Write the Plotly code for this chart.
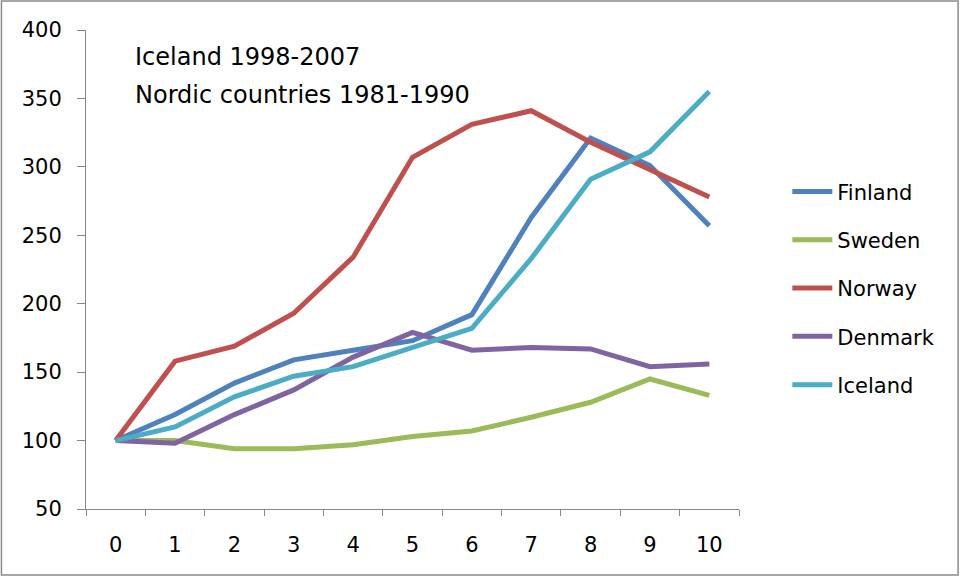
import plotly.graph_objects as go

years = list(range(11))
series_names = ["Finland", "Sweden", "Norway", "Denmark", "Iceland"]
finland = [100, 119, 142, 159, 166, 173, 192, 263, 321, 301, 257]
sweden = [100, 100, 94, 94, 97, 103, 107, 117, 128, 145, 133]
norway = [100, 158, 169, 193, 234, 307, 331, 341, 318, 298, 278]
denmark = [100, 98, 119, 137, 161, 179, 166, 168, 167, 154, 156]
iceland = [100, 110, 132, 147, 154, 168, 182, 233, 291, 311, 355]
series_values = [finland, sweden, norway, denmark, iceland]
colors = ["#4F81BD", "#9BBB59", "#C0504D", "#8064A2", "#4BACC6"]
y_ticks = [50, 100, 150, 200, 250, 300, 350, 400]
x_labels = [str(v) for v in years]
note_lines = ["Iceland 1998-2007", "Nordic countries 1981-1990"]

FONT = "DejaVu Sans"
AXIS = "#868686"

fig = go.Figure()
for name, vals, col in zip(series_names, series_values, colors):
    fig.add_trace(go.Scatter(
        x=years, y=vals, name=name, mode="lines", legendgroup=name,
        line=dict(color=col, width=5),
    ))

fig.update_layout(
    width=961, height=577,
    margin=dict(l=86, r=222, t=30, b=68),
    paper_bgcolor="white", plot_bgcolor="white",
    font=dict(family=FONT, size=21, color="black"),
    showlegend=True,
    legend=dict(x=1.074, xanchor="left", y=0.705, yanchor="top",
                font=dict(family=FONT, size=21, color="black"),
                itemwidth=40,
                tracegroupgap=18, bgcolor="rgba(0,0,0,0)"),
    xaxis=dict(
        range=[-0.5, 10.5], tickmode="array", tickvals=years, ticktext=x_labels,
        ticks="", showgrid=False, zeroline=False,
        showline=True, linecolor=AXIS, linewidth=1,
        tickfont=dict(family=FONT, size=21),
        ticklabelstandoff=17,
        minor=dict(ticks="outside", tick0=-0.5, dtick=1, ticklen=6,
                   tickcolor=AXIS, tickwidth=1, showgrid=False),
    ),
    yaxis=dict(
        range=[50, 400], tickmode="array", tickvals=y_ticks,
        ticks="outside", ticklen=8, tickcolor=AXIS, tickwidth=1,
        showgrid=False, zeroline=False,
        showline=True, linecolor=AXIS, linewidth=1,
        tickfont=dict(family=FONT, size=21),
        ticklabelstandoff=11,
    ),
)

fig.add_annotation(xref="paper", yref="paper", x=0.072, y=0.944,
                   xanchor="left", yanchor="middle", showarrow=False,
                   text=note_lines[0], font=dict(family=FONT, size=24))
fig.add_annotation(xref="paper", yref="paper", x=0.072, y=0.865,
                   xanchor="left", yanchor="middle", showarrow=False,
                   text=note_lines[1], font=dict(family=FONT, size=24))

# chart border
fig.add_shape(type="rect", xref="paper", yref="paper",
              x0=-0.1295, x1=1.3355, y0=-0.1378, y1=1.0605,
              line=dict(color="#8c8c8c", width=1.5), fillcolor="rgba(0,0,0,0)")

fig.write_html("out.html")
